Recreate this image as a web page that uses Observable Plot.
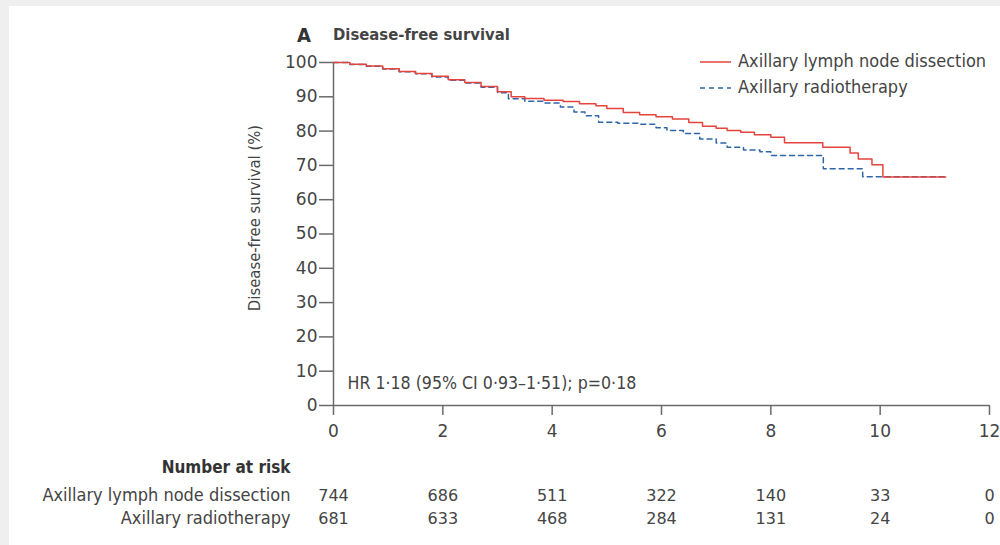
<!DOCTYPE html>
<html><head><meta charset="utf-8">
<script src="https://cdn.jsdelivr.net/npm/d3@7"></script>
<script src="https://cdn.jsdelivr.net/npm/@observablehq/plot@0.6"></script>
<style>
html,body{margin:0;padding:0;background:#fff;width:1000px;height:545px;overflow:hidden;position:relative;}
.edge{position:absolute;background:#efefef;}
#chart{position:absolute;left:0;top:0;}
.t{position:absolute;font-family:"DejaVu Sans Condensed",sans-serif;color:#444;white-space:nowrap;line-height:1;}
</style></head><body>
<div class="edge" style="left:0;top:0;width:9px;height:545px"></div>
<div class="edge" style="left:0;top:0;width:1000px;height:6px"></div>
<div id="chart"></div>
<div class="t" style="left:297px;top:25px;font-size:20px;font-weight:bold;color:#333">A</div>
<div class="t" style="left:333px;top:27px;font-size:16.5px;font-weight:bold;">Disease-free survival</div>
<svg style="position:absolute;left:0;top:0" width="1000" height="120">
  <line x1="700" x2="731" y1="62" y2="62" stroke="#e4443d" stroke-width="1.5"></line>
  <line x1="700" x2="731" y1="88" y2="88" stroke="#2f66a8" stroke-width="1.5" stroke-dasharray="5,4"></line>
</svg>
<div class="t" style="left:738px;top:52px;font-size:18px;">Axillary lymph node dissection</div>
<div class="t" style="left:738px;top:78px;font-size:18px;">Axillary radiotherapy</div>
<div class="t" style="left:255px;top:218px;font-size:16.5px;transform:translate(-50%,-50%) rotate(-90deg);">Disease-free survival (%)</div>
<script>
// Kaplan–Meier step data (years, %)
const timesALND = [0, 0.3, 0.6, 0.9, 1.2, 1.5, 1.8, 2.1, 2.4, 2.7, 3.0, 3.25, 3.5, 3.85, 4.2, 4.5, 4.8, 5.0, 5.3, 5.6, 5.9, 6.2, 6.5, 6.75, 7.0, 7.2, 7.45, 7.7, 8.0, 8.25, 8.95, 9.45, 9.6, 9.85, 10.05, 11.2];
const survALND  = [100, 99.5, 99.0, 98.2, 97.4, 96.8, 96.0, 95.0, 94.2, 93.0, 91.5, 90.0, 89.5, 89.0, 88.6, 88.0, 87.4, 86.6, 85.4, 84.8, 84.2, 83.5, 82.5, 81.4, 80.8, 80.2, 79.7, 78.9, 78.2, 76.6, 75.3, 73.6, 71.9, 70.2, 66.6, 66.6];
const timesRT = [0, 0.3, 0.6, 0.9, 1.2, 1.5, 1.8, 2.1, 2.4, 2.7, 3.0, 3.2, 3.5, 3.85, 4.15, 4.4, 4.6, 4.85, 5.2, 5.6, 5.9, 6.1, 6.4, 6.7, 7.0, 7.2, 7.5, 7.8, 8.0, 8.96, 9.68, 11.2];
const survRT  = [100, 99.4, 98.9, 98.1, 97.3, 96.7, 95.8, 94.8, 94.0, 92.8, 91.2, 89.4, 88.7, 88.2, 87.0, 85.6, 84.5, 82.6, 82.3, 82.0, 81.0, 80.2, 79.3, 77.7, 76.5, 75.3, 74.5, 74.0, 72.9, 69.0, 66.7, 66.7];
const xTicks = [0, 2, 4, 6, 8, 10, 12];
const yTicks = [0, 10, 20, 30, 40, 50, 60, 70, 80, 90, 100];
const riskTimes = [0, 2, 4, 6, 8, 10, 12];
const riskALND = [744, 686, 511, 322, 140, 33, 0];
const riskRT   = [681, 633, 468, 284, 131, 24, 0];
const groupNames = ["Axillary lymph node dissection", "Axillary radiotherapy"];
const hrText = "HR 1·18 (95% CI 0·93–1·51); p=0·18";

const alnd = timesALND.map((t, i) => ({t, s: survALND[i]}));
const rt = timesRT.map((t, i) => ({t, s: survRT[i]}));
const cond = '"DejaVu Sans Condensed",sans-serif';
const wide = '"DejaVu Sans",sans-serif';
const axisCol = "#6b6b6b";
const txt = "#444";

const chart = Plot.plot({
  width: 1000, height: 545,
  marginLeft: 333, marginRight: 11, marginTop: 62, marginBottom: 140,
  x: {domain: [0, 12]},
  y: {domain: [0, 100]},
  style: {background: "transparent", fontFamily: cond, fontSize: "17px", color: txt},
  marks: [
    Plot.ruleX([0], {y1: 0, y2: 100, stroke: axisCol, strokeWidth: 1.5}),
    Plot.ruleY([0], {x1: 0, x2: 12, stroke: axisCol, strokeWidth: 1.5}),
    Plot.axisY({ticks: yTicks, tickSize: 14, tickPadding: 2, label: null, stroke: axisCol, strokeWidth: 1.5, fill: txt, fontSize: 17, fontFamily: wide, tickFormat: d => d}),
    Plot.axisX({ticks: xTicks, tickSize: 10, tickPadding: 9, label: null, stroke: axisCol, strokeWidth: 1.5, fill: txt, fontSize: 17, fontFamily: wide, tickFormat: d => d}),
    Plot.line(rt, {x: "t", y: "s", curve: "step-after", stroke: "#2f66a8", strokeWidth: 1.5, strokeDasharray: "5,4"}),
    Plot.line(alnd, {x: "t", y: "s", curve: "step-after", stroke: "#e4443d", strokeWidth: 1.5}),
    Plot.text([hrText], {x: () => 0, y: () => 0, dx: 14, dy: -22, textAnchor: "start", fill: txt, fontSize: 17.6, fontFamily: cond}),
    Plot.text(["Number at risk"], {x: () => 0, y: () => 0, dx: -43, dy: 62, textAnchor: "end", fill: "#333", fontSize: 17, fontWeight: "bold", fontFamily: cond}),
    Plot.text([groupNames[0]], {x: () => 0, y: () => 0, dx: -43, dy: 90, textAnchor: "end", fill: txt, fontSize: 18, fontFamily: cond}),
    Plot.text([groupNames[1]], {x: () => 0, y: () => 0, dx: -43, dy: 113, textAnchor: "end", fill: txt, fontSize: 18, fontFamily: cond}),
    Plot.text(riskTimes, {x: d => d, y: () => 0, text: (d, i) => riskALND[i], dy: 90, fill: txt, fontSize: 16, fontFamily: wide}),
    Plot.text(riskTimes, {x: d => d, y: () => 0, text: (d, i) => riskRT[i], dy: 113, fill: txt, fontSize: 16, fontFamily: wide})
  ]
});
document.getElementById("chart").appendChild(chart);
</script>
</body></html>
